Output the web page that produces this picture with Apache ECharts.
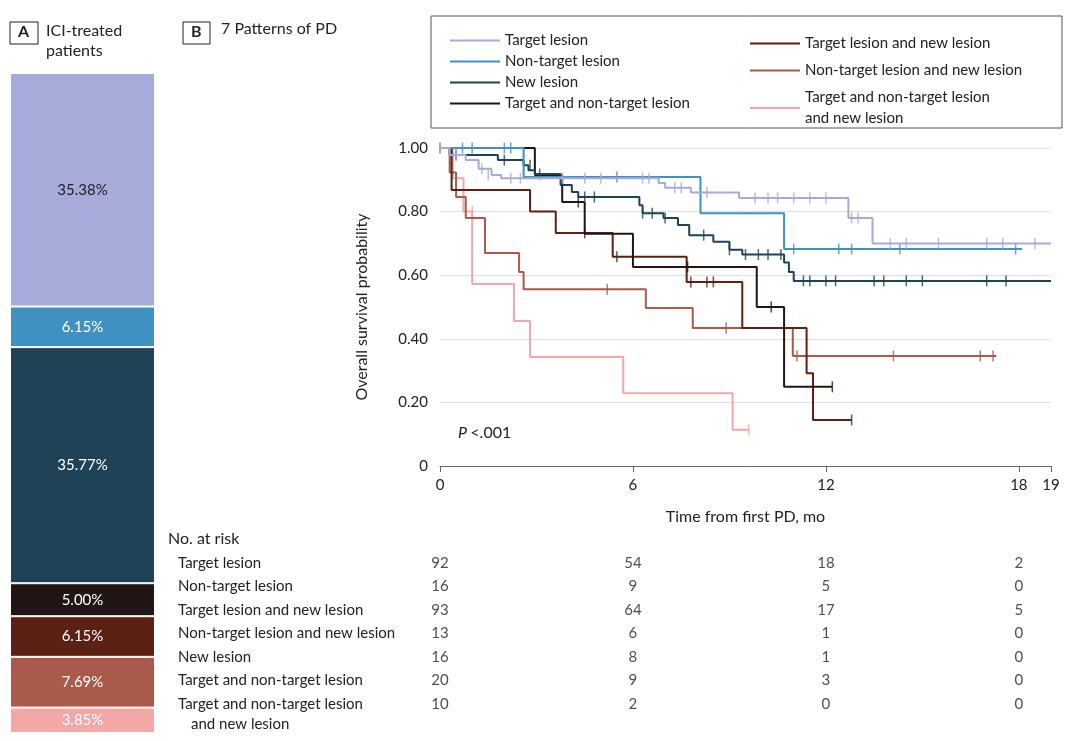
<!DOCTYPE html>
<html><head><meta charset="utf-8">
<script src="https://cdn.jsdelivr.net/npm/echarts@6/dist/echarts.min.js"></script>
<style>html,body{margin:0;padding:0;background:#fff}#c{width:1080px;height:741px}</style>
</head><body><div id="c"></div>
<script>
// panel A: share of ICI-treated patients, top to bottom
var shareLabels = ['35.38%', '6.15%', '35.77%', '5.00%', '6.15%', '7.69%', '3.85%'];
var shareValues = [35.38, 6.15, 35.77, 5.00, 6.15, 7.69, 3.85];
var shareColors = ['#a6abd9', '#3f91c1', '#1f4256', '#221614', '#5b2114', '#a95a4b', '#f4a7a7'];

// panel B: KM curves [months, survival]
var names = ['Target lesion', 'Non-target lesion', 'New lesion', 'Target and non-target lesion',
  'Target lesion and new lesion', 'Non-target lesion and new lesion', 'Target and non-target lesion\nand new lesion'];
var colors = ['#a6abd9', '#3f91c1', '#1f4256', '#221614', '#5b2114', '#a95a4b', '#f4a7a7'];
var kmTarget = [[0,1],[0.3,0.978],[0.8,0.962],[1.2,0.935],[1.6,0.915],[1.9,0.905],[6.8,0.89],[7.0,0.875],[7.8,0.86],[9.3,0.843],[12.7,0.78],[13.45,0.70],[19,0.70]];
var kmNonTarget = [[0,1],[2.6,0.909],[8.1,0.795],[10.7,0.682],[18.1,0.682]];
var kmNew = [[0,1],[0.3,0.978],[1.8,0.962],[2.6,0.946],[2.75,0.93],[2.95,0.918],[3.75,0.884],[4.1,0.862],[4.3,0.846],[6.2,0.82],[6.3,0.795],[6.95,0.78],[7.4,0.758],[7.75,0.726],[8.5,0.705],[9.0,0.68],[9.4,0.665],[10.7,0.64],[10.85,0.61],[11.0,0.582],[19,0.582]];
var kmTargetNonTarget = [[0,1],[2.95,0.915],[3.8,0.83],[4.5,0.73],[6.0,0.626],[9.85,0.50],[10.7,0.249],[12.2,0.249]];
var kmTargetNew = [[0,1],[0.36,0.868],[2.8,0.80],[3.6,0.733],[5.37,0.658],[7.67,0.579],[9.4,0.434],[11.4,0.292],[11.6,0.145],[12.8,0.145]];
var kmNonTargetNew = [[0,1],[0.3,0.923],[0.5,0.846],[0.8,0.78],[1.4,0.67],[2.46,0.61],[2.6,0.556],[6.4,0.497],[7.86,0.434],[10.97,0.346],[17.3,0.346]];
var kmAll = [[0,1],[0.4,0.905],[0.73,0.80],[1.0,0.572],[2.3,0.456],[2.8,0.343],[5.7,0.229],[9.1,0.114],[9.6,0.114]];
var curves = [kmTarget, kmNonTarget, kmNew, kmTargetNonTarget, kmTargetNew, kmNonTargetNew, kmAll];

// censor ticks
var cTarget = [[0.5,0.978],[1.3,0.935],[1.5,0.915],[2.2,0.905],[2.5,0.905],[3.8,0.905],[4.5,0.905],[5.0,0.905],[6.3,0.905],[6.5,0.905],[7.3,0.875],[7.5,0.875],[8.3,0.86],[9.8,0.843],[10.2,0.843],[10.5,0.843],[11.0,0.843],[11.5,0.843],[12.0,0.843],[12.8,0.78],[13.0,0.78],[14.0,0.70],[14.5,0.70],[15.5,0.70],[17.0,0.70],[17.5,0.70],[18.5,0.70]];
var cNonTarget = [[0.7,1],[1.0,1],[2.0,1],[2.2,1],[5.5,0.909],[11.0,0.682],[12.4,0.682],[12.8,0.682],[14.3,0.682],[17.9,0.682]];
var cNew = [[0.5,0.978],[2.0,0.962],[2.8,0.946],[3.1,0.918],[4.5,0.846],[4.8,0.846],[6.3,0.795],[6.6,0.795],[7.0,0.78],[8.2,0.726],[9.0,0.68],[9.5,0.665],[9.9,0.665],[10.2,0.665],[10.6,0.665],[11.3,0.582],[11.5,0.582],[12.0,0.582],[12.3,0.582],[13.5,0.582],[13.8,0.582],[14.5,0.582],[15.0,0.582],[17.0,0.582],[17.6,0.582]];
var cTargetNonTarget = [[4.3,0.83],[7.7,0.626],[10.3,0.50],[12.2,0.249]];
var cTargetNew = [[4.5,0.733],[5.5,0.658],[7.8,0.579],[8.3,0.579],[8.5,0.579],[12.8,0.145]];
var cNonTargetNew = [[0,1],[5.2,0.556],[8.9,0.434],[11.1,0.346],[14.1,0.346],[16.8,0.346],[17.2,0.346]];
var cAll = [[1.0,0.80],[9.6,0.114]];
var censors = [cTarget, cNonTarget, cNew, cTargetNonTarget, cTargetNew, cNonTargetNew, cAll];

// number at risk
var riskRows = ['Target lesion', 'Non-target lesion', 'Target lesion and new lesion', 'Non-target lesion and new lesion',
  'New lesion', 'Target and non-target lesion', 'Target and non-target lesion'];
var riskTimes = [0, 6, 12, 18];
var riskCounts = [[92,54,18,2],[16,9,5,0],[93,64,17,5],[13,6,1,0],[16,8,1,0],[20,9,3,0],[10,2,0,0]];

var FONT = 'Lato';
var chart = echarts.init(document.getElementById('c'));
var series = [];
shareValues.forEach(function (v, i) {
  series.push({
    type: 'bar', stack: 'a', xAxisIndex: 0, yAxisIndex: 0, barWidth: '100%', data: [v],
    itemStyle: {color: shareColors[i], borderColor: '#fff', borderWidth: 1},
    label: {show: true, position: 'inside', formatter: shareLabels[i], fontFamily: FONT, fontSize: 15,
      color: i === 0 ? '#222' : '#fff'}
  });
});
curves.forEach(function (d, i) {
  series.push({type: 'line', name: names[i], step: 'end', xAxisIndex: 1, yAxisIndex: 1, data: d,
    showSymbol: false, lineStyle: {color: colors[i], width: 2}, itemStyle: {color: colors[i]}, z: 10 - i});
  series.push({type: 'scatter', xAxisIndex: 1, yAxisIndex: 1, data: censors[i], symbol: 'rect',
    symbolSize: [1.5, 11], itemStyle: {color: colors[i]}, z: 10 - i});
});
var riskData = [];
riskCounts.forEach(function (row, r) {
  row.forEach(function (n, c) { riskData.push([riskTimes[c], r, n]); });
});
series.push({type: 'scatter', xAxisIndex: 2, yAxisIndex: 2, data: riskData, symbolSize: 0,
  label: {show: true, position: 'inside', formatter: function (p) { return p.value[2]; },
    fontFamily: FONT, fontSize: 15, color: '#222'}});

var txt = {fontFamily: FONT, fontSize: 16, fill: '#222'};
chart.setOption({
  animation: false,
  textStyle: {fontFamily: FONT},
  grid: [
    {left: 10, width: 145, top: 73, bottom: 8},
    {left: 440, right: 29, top: 148, bottom: 275},
    {left: 440, right: 29, top: 551, bottom: 25}
  ],
  xAxis: [
    {gridIndex: 0, type: 'category', data: ['A'], show: false},
    {gridIndex: 1, type: 'value', min: 0, max: 19, interval: 6,
      axisLine: {lineStyle: {color: '#666'}}, axisTick: {lineStyle: {color: '#666'}, length: 6},
      splitLine: {show: false}, axisLabel: {color: '#222', fontSize: 15, margin: 12},
      name: 'Time from first PD, mo', nameLocation: 'middle', nameGap: 43,
      nameTextStyle: {fontSize: 16, color: '#222'}},
    {gridIndex: 2, type: 'value', min: 0, max: 19, show: false}
  ],
  yAxis: [
    {gridIndex: 0, type: 'value', min: 0, max: 99.99, inverse: true, show: false},
    {gridIndex: 1, type: 'value', min: 0, max: 1, interval: 0.2,
      axisLine: {show: false}, axisTick: {show: false},
      splitLine: {lineStyle: {color: '#ddd'}},
      axisLabel: {color: '#222', fontSize: 15, margin: 12,
        formatter: function (v) { return v === 0 ? '0' : v.toFixed(2); }},
      name: 'Overall survival probability', nameLocation: 'middle', nameGap: 70,
      nameTextStyle: {fontSize: 16, color: '#222'}},
    {gridIndex: 2, type: 'category', inverse: true, data: riskRows,
      axisLine: {show: false}, axisTick: {show: false},
      axisLabel: {align: 'left', margin: 262, fontSize: 15, color: '#222'}}
  ],
  legend: [
    {left: 445, top: 28, orient: 'vertical', itemGap: 6, itemWidth: 50, itemHeight: 2, icon: 'rect',
      data: names.slice(0, 4), textStyle: {fontSize: 15, color: '#222'}},
    {left: 745, top: 28, orient: 'vertical', itemGap: 6, itemWidth: 50, itemHeight: 2, icon: 'rect',
      data: names.slice(4), textStyle: {fontSize: 15, color: '#222', lineHeight: 21}}
  ],
  graphic: [
    {type: 'rect', shape: {x: 431, y: 16, width: 631, height: 112}, style: {fill: 'none', stroke: '#555', lineWidth: 1}},
    {type: 'rect', shape: {x: 10, y: 22, width: 28, height: 22}, style: {fill: 'none', stroke: '#222', lineWidth: 1}},
    {type: 'text', x: 18, y: 24, style: Object.assign({text: 'A', fontWeight: 'bold'}, txt)},
    {type: 'text', x: 46, y: 21, style: Object.assign({text: 'ICI-treated\npatients', lineHeight: 20}, txt)},
    {type: 'rect', shape: {x: 183, y: 22, width: 27, height: 22}, style: {fill: 'none', stroke: '#222', lineWidth: 1}},
    {type: 'text', x: 191, y: 24, style: Object.assign({text: 'B', fontWeight: 'bold'}, txt)},
    {type: 'text', x: 221, y: 21, style: Object.assign({text: '7 Patterns of PD'}, txt)},
    {type: 'text', x: 458, y: 425, style: {rich: {i: {fontStyle: 'italic', fontSize: 16, fontFamily: FONT}, n: {fontSize: 16, fontFamily: FONT}},
      text: '{i|P} {n|<.001}', fill: '#222'}},
    {type: 'text', x: 168, y: 531, style: Object.assign({text: 'No. at risk', fontSize: 15}, txt)},
    {type: 'text', x: 191, y: 717, style: Object.assign({}, txt, {text: 'and new lesion', fontSize: 15})}
  ],
  series: series
});
</script></body></html>
